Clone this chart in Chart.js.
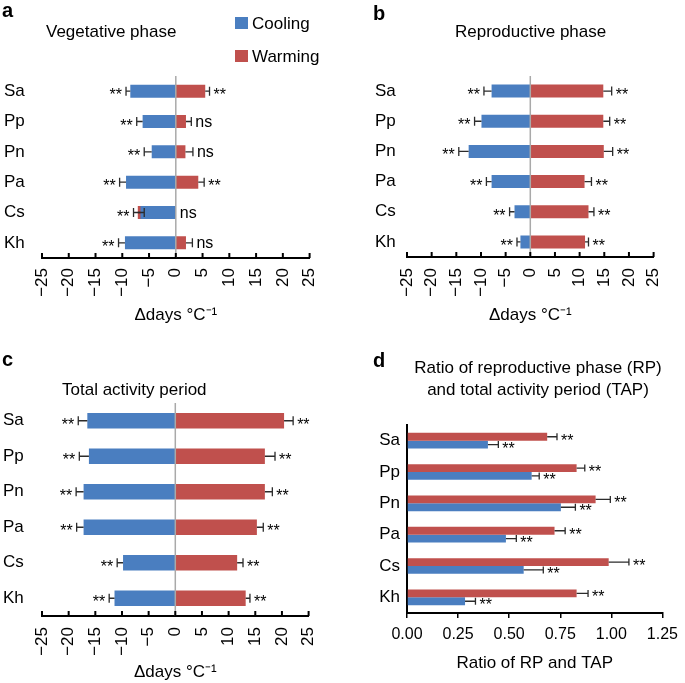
<!DOCTYPE html>
<html>
<head>
<meta charset="utf-8">
<script src="https://cdn.jsdelivr.net/npm/chart.js@4"></script>
<style>
  body { margin: 0; background: #fff; }
  canvas { position: absolute; }
</style>
</head>
<body>
<canvas id="chartA" style="left:0;top:0;width:340px;height:330px" width="340" height="330"></canvas>
<canvas id="chartB" style="left:340px;top:0;width:345px;height:330px" width="345" height="330"></canvas>
<canvas id="chartC" style="left:0;top:330px;width:340px;height:353px" width="340" height="353"></canvas>
<canvas id="chartD" style="left:340px;top:330px;width:345px;height:353px" width="345" height="353"></canvas>
<script>
// species (rows, top to bottom)
var species = ['Sa', 'Pp', 'Pn', 'Pa', 'Cs', 'Kh'];

// a: vegetative phase (days per degree C), bar value and end of its error bar
var vegCool = [-8.5, -6.2, -4.5, -9.3, -6.6, -9.5];
var vegCoolErr = [-9.3, -7.3, -5.9, -10.5, -7.9, -10.7];
var vegWarm = [5.5, 1.9, 1.8, 4.2, -7.1, 1.9];
var vegWarmErr = [6.3, 2.9, 3.2, 5.3, -5.9, 3.1];
var vegCoolSig = ['**', '**', '**', '**', '**', '**'];
var vegWarmSig = ['**', 'ns', 'ns', '**', 'ns', 'ns'];

// b: reproductive phase
var repCool = [-7.85, -9.9, -12.5, -7.85, -3.2, -2.0];
var repCoolErr = [-9.4, -11.3, -14.5, -8.9, -4.2, -2.7];
var repWarm = [14.8, 14.8, 14.9, 11.0, 11.8, 11.1];
var repWarmErr = [16.5, 16.1, 16.7, 12.4, 12.9, 11.8];

// c: total activity period
var tapCool = [-16.5, -16.2, -17.2, -17.2, -9.8, -11.4];
var tapCoolErr = [-18.2, -18.0, -18.6, -18.5, -10.9, -12.4];
var tapWarm = [20.4, 16.8, 16.8, 15.3, 11.6, 13.2];
var tapWarmErr = [22.1, 18.7, 18.2, 16.5, 12.7, 14.0];

// d: ratio RP / TAP
var ratioWarm = [0.686, 0.83, 0.923, 0.722, 0.987, 0.83];
var ratioWarmErr = [0.734, 0.87, 0.995, 0.774, 1.086, 0.886];
var ratioCool = [0.396, 0.61, 0.753, 0.484, 0.571, 0.284];
var ratioCoolErr = [0.447, 0.647, 0.824, 0.535, 0.667, 0.335];

var allStars = ['**', '**', '**', '**', '**', '**'];
var dayTicks = [-25, -20, -15, -10, -5, 0, 5, 10, 15, 20, 25];
var ratioTicks = [0, 0.25, 0.5, 0.75, 1, 1.25];

var BLUE = '#4a7ec0';
var RED = '#c0504d';
var FONT = "'Liberation Sans', Arial, sans-serif";

Chart.defaults.font.family = FONT;
Chart.defaults.color = '#000';

function minus(v) {
  return v < 0 ? '\u2212' + Math.abs(v) : String(v);
}

// error bars, significance marks, zero line, titles, legend
var extras = {
  id: 'extras',
  afterDatasetsDraw: function (chart, args, o) {
    var ctx = chart.ctx, xs = chart.scales.x, area = chart.chartArea;
    var zero = xs.getPixelForValue(0);
    ctx.save();
    if (o.zeroLine) {
      ctx.strokeStyle = '#a9a9a9';
      ctx.lineWidth = 1.5;
      ctx.beginPath();
      ctx.moveTo(zero, area.top);
      ctx.lineTo(zero, area.bottom);
      ctx.stroke();
    }
    if (o.inwardTicks) {
      ctx.strokeStyle = '#000';
      ctx.lineWidth = 2;
      xs.ticks.forEach(function (t) {
        var px = xs.getPixelForValue(t.value);
        ctx.beginPath();
        ctx.moveTo(px, area.bottom);
        ctx.lineTo(px, area.bottom - 5);
        ctx.stroke();
      });
    }
    chart.data.datasets.forEach(function (ds, di) {
      var meta = chart.getDatasetMeta(di);
      meta.data.forEach(function (bar, i) {
        var y = bar.y;
        var xe = xs.getPixelForValue(ds.errEnd[i]);
        ctx.strokeStyle = '#2b2b2b';
        ctx.lineWidth = 1.3;
        ctx.beginPath();
        ctx.moveTo(bar.x, y);
        ctx.lineTo(xe, y);
        ctx.moveTo(xe, y - o.cap);
        ctx.lineTo(xe, y + o.cap);
        ctx.stroke();

        var s = ds.sig[i];
        var tx;
        ctx.font = '16px ' + FONT;
        ctx.fillStyle = '#000';
        if (ds.sigSide === 'left') {
          tx = Math.min(bar.x, xe, zero) - 4;
          ctx.textAlign = 'right';
        } else {
          tx = Math.max(bar.x, xe, zero) + 4;
          ctx.textAlign = 'left';
        }
        ctx.textBaseline = 'alphabetic';
        ctx.fillText(s, tx, y + (s === '**' ? 9 : 5));
      });
    });
    ctx.restore();
  },
  afterDraw: function (chart, args, o) {
    var ctx = chart.ctx;
    ctx.save();
    ctx.fillStyle = '#000';
    ctx.textBaseline = 'alphabetic';
    ctx.textAlign = 'left';
    ctx.font = 'bold 20px ' + FONT;
    ctx.fillText(o.letter[0], o.letter[1], o.letter[2]);
    ctx.font = '17px ' + FONT;
    ctx.textAlign = o.titleAlign;
    o.title.forEach(function (line, k) {
      ctx.fillText(line, o.titleX, o.titleY + k * 21.7);
    });
    if (o.legend) {
      ctx.textAlign = 'left';
      chart.data.datasets.forEach(function (ds, k) {
        var top = 17 + k * 33;
        ctx.fillStyle = ds.backgroundColor;
        ctx.fillRect(235, top, 13, 12);
        ctx.fillStyle = '#000';
        ctx.fillText(ds.label, 252, top + 11.5);
      });
    }
    ctx.restore();
  }
};

function dayChart(id, cool, coolErr, warm, warmErr, coolSig, warmSig, lay, opts) {
  return new Chart(document.getElementById(id), {
    type: 'bar',
    data: {
      labels: species,
      datasets: [
        { label: 'Cooling', data: cool, errEnd: coolErr, sig: coolSig, sigSide: 'left',
          backgroundColor: BLUE },
        { label: 'Warming', data: warm, errEnd: warmErr, sig: warmSig, sigSide: 'right',
          backgroundColor: RED }
      ]
    },
    options: {
      indexAxis: 'y',
      responsive: false,
      animation: false,
      grouped: false,
      categoryPercentage: 1,
      barPercentage: 0.43,
      layout: { padding: { left: lay.left, top: lay.top, right: lay.right, bottom: 0 } },
      scales: {
        x: {
          min: dayTicks[0],
          max: dayTicks[dayTicks.length - 1],
          afterBuildTicks: function (s) { s.ticks = dayTicks.map(function (v) { return { value: v }; }); },
          ticks: { autoSkip: false, minRotation: 90, maxRotation: 90, padding: lay.tickPad,
                   font: { size: 17 }, color: '#000', callback: minus },
          grid: { display: false, drawTicks: false },
          border: { display: true, color: '#000', width: 2 },
          title: { display: true, text: '\u0394days \u00b0C\u207b\u00b9', font: { size: 17 }, color: '#000',
                   padding: { top: 0, bottom: lay.titlePad } },
          afterFit: function (s) { s.height = lay.xHeight; }
        },
        y: {
          ticks: { font: { size: 17 }, color: '#000', crossAlign: 'far', padding: 0 },
          grid: { display: false, drawTicks: false },
          border: { display: false },
          afterFit: function (s) { s.width = lay.yWidth; }
        }
      },
      plugins: {
        legend: { display: false },
        tooltip: { enabled: false },
        extras: Object.assign({ zeroLine: true, inwardTicks: true, cap: 4.5 }, opts)
      }
    },
    plugins: [extras]
  });
}

dayChart('chartA', vegCool, vegCoolErr, vegWarm, vegWarmErr, vegCoolSig, vegWarmSig,
  { left: 4, top: 76, right: 30, yWidth: 38, xHeight: 72, tickPad: 10, titlePad: 4 },
  { letter: ['a', 2, 17], title: ['Vegetative phase'], titleX: 46, titleY: 37, titleAlign: 'left', legend: true });

dayChart('chartB', repCool, repCoolErr, repWarm, repWarmErr, allStars, allStars,
  { left: 35, top: 76, right: 15, yWidth: 32, xHeight: 73, tickPad: 11, titlePad: 4 },
  { letter: ['b', 33, 20], title: ['Reproductive phase'], titleX: 115, titleY: 37, titleAlign: 'left' });

dayChart('chartC', tapCool, tapCoolErr, tapWarm, tapWarmErr, allStars, allStars,
  { left: 3, top: 73, right: 30, yWidth: 39, xHeight: 67, tickPad: 11, titlePad: 0 },
  { letter: ['c', 2, 36], title: ['Total activity period'], titleX: 62, titleY: 65, titleAlign: 'left' });

new Chart(document.getElementById('chartD'), {
  type: 'bar',
  data: {
    labels: species,
    datasets: [
      { label: 'Warming', data: ratioWarm, errEnd: ratioWarmErr, sig: allStars, sigSide: 'right',
        backgroundColor: RED },
      { label: 'Cooling', data: ratioCool, errEnd: ratioCoolErr, sig: allStars, sigSide: 'right',
        backgroundColor: BLUE }
    ]
  },
  options: {
    indexAxis: 'y',
    responsive: false,
    animation: false,
    categoryPercentage: 0.5,
    barPercentage: 1,
    layout: { padding: { left: 0, top: 95, right: 17, bottom: 0 } },
    scales: {
      x: {
        min: 0,
        max: 1.25,
        afterBuildTicks: function (s) { s.ticks = ratioTicks.map(function (v) { return { value: v }; }); },
        ticks: { autoSkip: false, maxRotation: 0, padding: 7, font: { size: 16 }, color: '#000',
                 callback: function (v) { return Number(v).toFixed(2); } },
        grid: { drawOnChartArea: false, drawTicks: true, tickLength: 5, color: '#000', lineWidth: 1.5 },
        border: { display: true, color: '#000', width: 2 },
        title: { display: true, text: 'Ratio of RP and TAP', font: { size: 17 }, color: '#000',
                 padding: { top: 0, bottom: 9 } },
        afterFit: function (s) { s.height = 70; }
      },
      y: {
        ticks: { font: { size: 17 }, color: '#000', crossAlign: 'near', padding: 7 },
        grid: { display: false, drawTicks: false },
        border: { display: true, color: '#000', width: 2 },
        afterFit: function (s) { s.width = 67; }
      }
    },
    plugins: {
      legend: { display: false },
      tooltip: { enabled: false },
      extras: { zeroLine: false, inwardTicks: false, cap: 3.5, letter: ['d', 33, 37],
                title: ['Ratio of reproductive phase (RP)', 'and total activity period (TAP)'],
                titleX: 198, titleY: 43, titleAlign: 'center' }
    }
  },
  plugins: [extras]
});
</script>
</body>
</html>
